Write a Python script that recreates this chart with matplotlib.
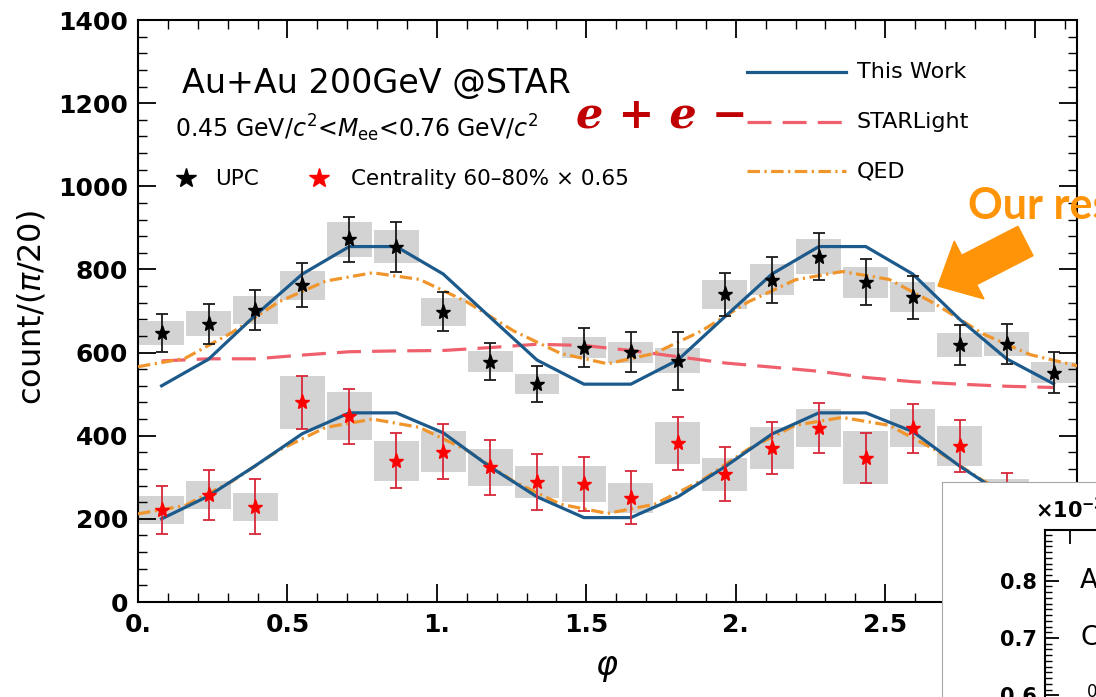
import numpy as np
import matplotlib.pyplot as plt
from matplotlib.lines import Line2D
from matplotlib.patches import FancyArrow
from matplotlib.ticker import MultipleLocator
from matplotlib.transforms import IdentityTransform

# bin centres (pi/20 bins) and curve grid
phi = [0.079, 0.236, 0.393, 0.550, 0.707, 0.864, 1.021, 1.178, 1.335, 1.492,
       1.649, 1.806, 1.963, 2.121, 2.278, 2.435, 2.592, 2.749, 2.906, 3.063]
phi_qed = [0.000, 0.157, 0.314, 0.471, 0.628, 0.785, 0.942, 1.100, 1.257, 1.414, 1.571,
           1.728, 1.885, 2.042, 2.199, 2.356, 2.513, 2.670, 2.827, 2.985, 3.142]

# STAR data, UPC
upc = [647, 669, 702, 762, 872, 855, 698, 578, 524, 612,
       601, 580, 740, 775, 831, 769, 733, 618, 620, 552]
upc_stat = [46, 48, 48, 53, 54, 60, 47, 44, 43, 46,
            48, 70, 52, 56, 56, 55, 52, 48, 48, 50]
upc_sys = [29, 30, 33, 35, 42, 40, 34, 25, 24, 25,
           25, 30, 35, 37, 42, 37, 36, 29, 29, 25]

# STAR data, 60-80% centrality (x0.65)
cent = [221, 257, 229, 480, 447, 340, 362, 324, 289, 284,
        251, 382, 307, 370, 419, 347, 418, 375, 255, 215]
cent_stat = [58, 60, 66, 64, 66, 66, 67, 66, 67, 64,
             63, 64, 65, 62, 60, 60, 59, 62, 56, 55]
cent_sys = [33, 33, 33, 63, 58, 48, 50, 45, 38, 43,
            36, 51, 40, 50, 46, 64, 46, 49, 40, 35]

# model curves
this_work_upc = [520, 584, 690, 789, 855, 855, 789, 685, 582, 524,
                 524, 582, 686, 789, 855, 855, 789, 680, 585, 525]
this_work_cent = [200, 255, 328, 405, 455, 455, 407, 325, 253, 203,
                  203, 253, 325, 404, 455, 455, 410, 327, 253, 203]
starlight_upc = [580, 585, 585, 594, 602, 604, 605, 612, 620, 617,
                 605, 590, 575, 565, 555, 540, 530, 524, 519, 516]
qed_upc = [566, 586, 648, 722, 772, 792, 776, 722, 652, 598, 573,
           598, 652, 722, 775, 795, 776, 716, 645, 595, 568]
qed_cent = [212, 232, 290, 365, 420, 440, 420, 365, 290, 235, 213,
            235, 292, 368, 425, 444, 425, 365, 292, 235, 212]

xtick_vals = [0, 0.5, 1, 1.5, 2, 2.5, 3]
xtick_text = ['0.', '0.5', '1.', '1.5', '2.', '2.5', '3.']
ytick_vals = [0, 200, 400, 600, 800, 1000, 1200, 1400]

BLUE = '#1d5a8c'
PINK = '#f0606c'
ORANGE = '#f0952c'
GREY = '#d3d3d3'
RED_ERR = '#d8283a'
HILITE = '#ff9408'
SL_DASH = (7.5, 3.5)
QED_DASH = (3.9, 1.4, 0.7, 1.4)

W, H = 1096, 697


def fx(x):
    return x / W


def fy(y):
    return 1 - y / H


fig = plt.figure(figsize=(W / 100, H / 100), dpi=100)
ax = fig.add_axes([fx(138), fy(602), (1077 - 138) / W, (602 - 20) / H])

# systematic boxes
ax.bar(phi, 2 * np.array(upc_sys), bottom=np.array(upc) - np.array(upc_sys),
       width=0.15, color=GREY, zorder=1)
ax.bar(phi, 2 * np.array(cent_sys), bottom=np.array(cent) - np.array(cent_sys),
       width=0.15, color=GREY, zorder=1)

# curves
ax.plot(phi, starlight_upc, color=PINK, lw=2.3, dashes=SL_DASH, zorder=2)
ax.plot(phi_qed, qed_upc, color=ORANGE, lw=2.3, dashes=QED_DASH, zorder=3)
ax.plot(phi_qed, qed_cent, color=ORANGE, lw=2.3, dashes=QED_DASH, zorder=3)
ax.plot(phi, this_work_upc, color=BLUE, lw=2.3, zorder=3)
ax.plot(phi, this_work_cent, color=BLUE, lw=2.3, zorder=3)

# data points
ax.errorbar(phi, upc, yerr=upc_stat, fmt='*', ms=11, color='black', ecolor='#1a1a1a',
            elinewidth=1.3, capsize=4, capthick=1.3, zorder=4)
ax.errorbar(phi, cent, yerr=cent_stat, fmt='*', ms=11, mfc='#ff0000', mec='#ff0000',
            ecolor=RED_ERR, elinewidth=1.3, capsize=4, capthick=1.3, zorder=4)

ax.set_xlim(0, np.pi)
ax.set_ylim(0, 1400)
ax.set_xticks(xtick_vals, labels=xtick_text, fontsize=18, fontweight='bold')
ax.set_yticks(ytick_vals, labels=[str(v) for v in ytick_vals], fontsize=18, fontweight='bold')
ax.xaxis.set_minor_locator(MultipleLocator(0.1))
ax.yaxis.set_minor_locator(MultipleLocator(40))
ax.tick_params(which='both', direction='in', top=True, right=True)
ax.tick_params(which='major', length=13, width=1.3)
ax.tick_params(which='minor', length=6.5, width=1.0)
ax.tick_params(axis='x', pad=8)
ax.tick_params(axis='y', pad=7)
for s in ax.spines.values():
    s.set_linewidth(1.5)

fig.text(fx(32), fy(308), r'count/($\pi$/20)', fontsize=23, rotation=90,
         ha='center', va='center')
fig.text(fx(607), fy(668), r'$\varphi$', fontsize=24, ha='center', va='center')

# in-plot labels
fig.text(fx(182), fy(93), 'Au+Au 200GeV @STAR', fontsize=24, va='baseline')
fig.text(fx(175), fy(137), r'0.45 GeV/$c^2$<$M_{\rm ee}$<0.76 GeV/$c^2$',
         fontsize=17, va='baseline')
fig.add_artist(Line2D([fx(186)], [fy(178)], marker='*', ms=15, color='black', ls='none'))
fig.text(fx(215), fy(185), 'UPC', fontsize=15.5, va='baseline')
fig.add_artist(Line2D([fx(319)], [fy(178)], marker='*', ms=15, color='#ff0000', ls='none'))
fig.text(fx(351), fy(185), 'Centrality 60–80% × 0.65', fontsize=15.5, va='baseline')

# curve key
key = [('This Work', BLUE, None, 72),
       ('STARLight', PINK, SL_DASH, 122),
       ('QED', ORANGE, QED_DASH, 171)]
for name, col, dash, yy in key:
    ln = Line2D([fx(747), fx(846)], [fy(yy), fy(yy)], color=col, lw=2.3)
    if dash:
        ln.set_dashes(dash)
    fig.add_artist(ln)
    fig.text(fx(857), fy(yy), name, fontsize=16, va='center')

fig.text(fx(576), fy(128), 'e + e −', family='DejaVu Serif', style='italic',
         weight='bold', fontsize=31, color='#c00000', va='baseline')

# highlight arrow and note
fig.add_artist(FancyArrow(1025.5, H - 241, -87.5, -45, width=33, head_width=65,
                          head_length=35, length_includes_head=True, color=HILITE,
                          transform=IdentityTransform()))
fig.text(fx(968), fy(219), 'Our results', family='Lato', fontsize=31,
         fontweight='bold', color=HILITE, va='baseline')

# second panel peeking in at the lower right
cover = fig.add_axes([fx(942), 0, (W - 942) / W, (H - 482) / H], zorder=5)
cover.set_xticks([])
cover.set_yticks([])
for side in ['right', 'bottom']:
    cover.spines[side].set_visible(False)
for side in ['left', 'top']:
    cover.spines[side].set_color('#a8a8a8')
    cover.spines[side].set_linewidth(0.8)

px_per_unit = 573.0
ins_top = 0.8 + (580.7 - 530) / px_per_unit
ins_bot = 0.8 - (800 - 580.7) / px_per_unit
ins = fig.add_axes([fx(1045), fy(800), (1400 - 1045) / W, (800 - 530) / H], zorder=6)
ins.patch.set_alpha(0)
ins.set_ylim(ins_bot, ins_top)
ins.set_xlim(0, 1)
ins.set_yticks([0.6, 0.7, 0.8], labels=['0.6', '0.7', '0.8'], fontsize=15, fontweight='bold')
ins.yaxis.set_minor_locator(MultipleLocator(0.01))
ins.set_xticks([25 / 355], labels=[''])
ins.tick_params(which='both', direction='in', top=True, bottom=False, right=False)
ins.tick_params(which='major', length=10, width=1.3, pad=6)
ins.tick_params(which='minor', length=5, width=1.0)
for s in ins.spines.values():
    s.set_linewidth(1.5)
ins.text(fx(1035), fy(510), r'$\mathbf{\times 10^{-3}}$', transform=fig.transFigure,
         fontsize=15, va='center')
ins.text(fx(1080), fy(581), 'Au+Au', transform=fig.transFigure, fontsize=19, va='center')
ins.text(fx(1080), fy(638), 'Centrality', transform=fig.transFigure, fontsize=19, va='center')
ins.text(fx(1087), fy(692), '0.45 GeV', transform=fig.transFigure, fontsize=12, va='center')

fig.savefig('out.png', dpi=100)
